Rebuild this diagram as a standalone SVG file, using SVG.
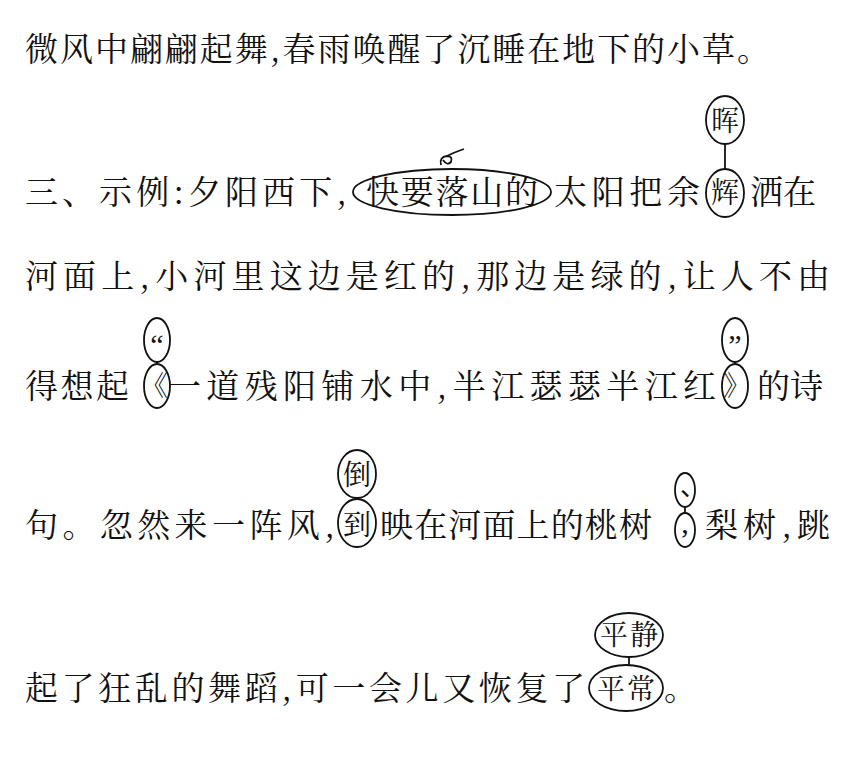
<svg xmlns="http://www.w3.org/2000/svg" width="853" height="773" viewBox="0 0 853 773">
<style>
text{font-family:"Noto Serif CJK SC","Noto Sans CJK SC",serif;font-size:33px;fill:#111}
.s{font-size:28px}
.q{font-family:"Liberation Serif",serif;font-size:30px;text-anchor:middle}
.m{fill:none;stroke:#111;stroke-width:1.8}
</style>
<rect width="853" height="773" fill="#fff"/>
<g id="text">
<text x="25" y="61" textLength="745" lengthAdjust="spacing">微风中翩翩起舞,春雨唤醒了沉睡在地下的小草。</text>
<text x="25" y="204" textLength="322" lengthAdjust="spacing">三、示例:夕阳西下,</text>
<text x="366" y="204" textLength="172" lengthAdjust="spacing">快要落山的</text>
<text x="554" y="204" textLength="146" lengthAdjust="spacing">太阳把余</text>
<text x="711" y="203" class="s">辉</text>
<text x="750" y="204">洒在</text>
<text x="25" y="288" textLength="805" lengthAdjust="spacing">河面上,小河里这边是红的,那边是绿的,让人不由</text>
<text x="25" y="398" textLength="104" lengthAdjust="spacing">得想起</text>
<text x="140" y="396" class="s">《</text>
<text x="168" y="398" textLength="548" lengthAdjust="spacing">一道残阳铺水中,半江瑟瑟半江红</text>
<text x="723" y="396" class="s">》</text>
<text x="757" y="398">的诗</text>
<text x="25" y="537" textLength="310" lengthAdjust="spacing">句。忽然来一阵风,</text>
<text x="343" y="535" class="s">到</text>
<text x="380" y="537" textLength="272" lengthAdjust="spacing">映在河面上的桃树</text>
<text x="685" y="533" class="q">,</text>
<text x="705" y="537" textLength="125" lengthAdjust="spacing">梨树,跳</text>
<text x="25" y="700" textLength="560" lengthAdjust="spacing">起了狂乱的舞蹈,可一会儿又恢复了</text>
<text x="597" y="699" class="s" textLength="58">平常</text>
<text x="664" y="700">。</text>
<text x="711" y="131" class="s">晖</text>
<text x="157" y="355" class="q">“</text>
<text x="735" y="355" class="q">”</text>
<text x="343" y="485" class="s">倒</text>
<text x="680" y="496" style="font-family:'Noto Sans CJK SC',sans-serif;font-size:26px">、</text>
<text x="600" y="645" class="s" textLength="58">平静</text>
</g>
<g id="marks" class="m">
<ellipse cx="452" cy="192" rx="99" ry="23"/>
<ellipse cx="725" cy="193" rx="19" ry="24"/>
<ellipse cx="725" cy="120" rx="19" ry="24"/>
<line x1="725" y1="144" x2="725" y2="169"/>
<path d="M441,165 q-2,-8 6,-9 q6,0 4,6 q-4,4 -8,-2 M447,156 q8,-4 17,-7"/>
<ellipse cx="157" cy="386" rx="13" ry="22"/>
<ellipse cx="157" cy="340" rx="13" ry="22"/>
<line x1="157" y1="362" x2="157" y2="364"/>
<ellipse cx="735" cy="386" rx="13" ry="22"/>
<ellipse cx="735" cy="340" rx="13" ry="22"/>
<line x1="735" y1="362" x2="735" y2="364"/>
<ellipse cx="357" cy="523" rx="19" ry="24"/>
<ellipse cx="357" cy="474" rx="19" ry="24"/>
<line x1="357" y1="498" x2="357" y2="499"/>
<ellipse cx="685" cy="530" rx="10" ry="17"/>
<ellipse cx="685" cy="490" rx="10" ry="17"/>
<line x1="685" y1="507" x2="685" y2="513"/>
<ellipse cx="626" cy="688" rx="37" ry="23"/>
<ellipse cx="629" cy="635" rx="34" ry="22"/>
<line x1="629" y1="657" x2="629" y2="665"/>
</g>
</svg>
